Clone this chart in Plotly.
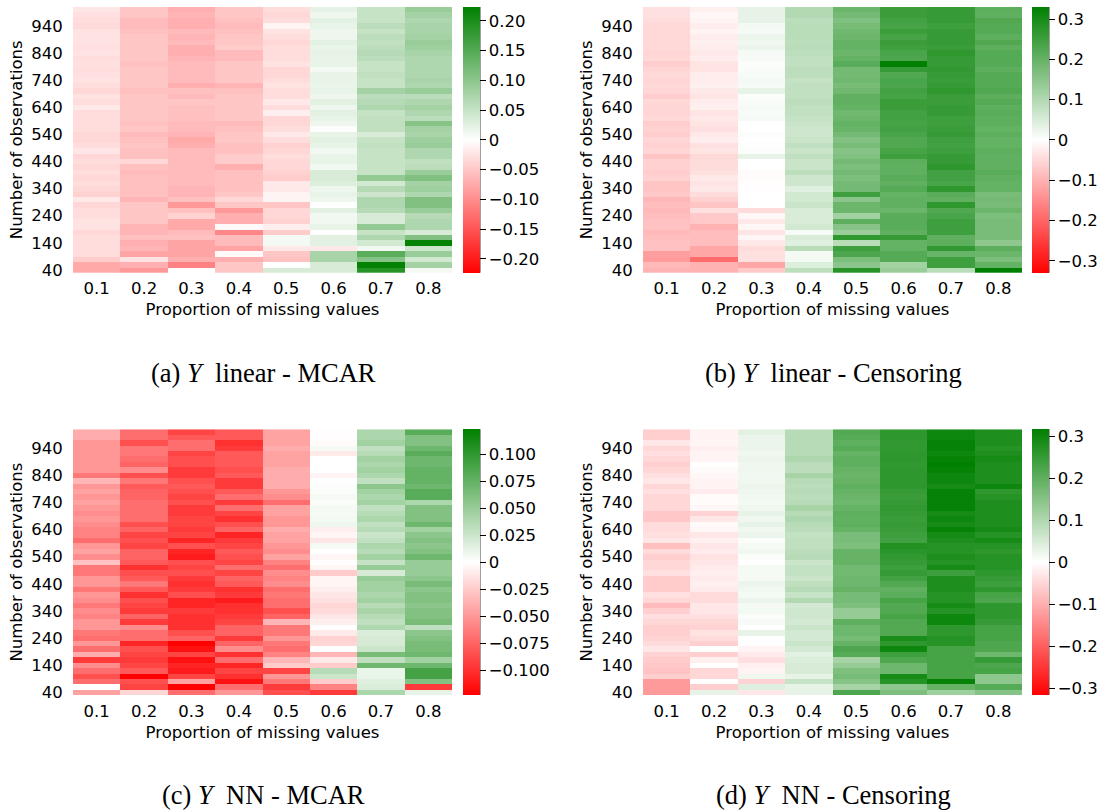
import plotly.graph_objects as go

W, H = 1099, 811
proportions = [0.1, 0.2, 0.3, 0.4, 0.5, 0.6, 0.7, 0.8]
observations = list(range(40, 1001, 20))
y_ticks = list(range(40, 941, 100))

# Columns by proportion of missing values; rows run from 40 to 1000 observations.
panel_a = [
 [-.075,-.075,-.045,-.03,-.03,-.03,-.03,-.035,-.025,-.025,-.03,-.03,-.035,-.02,-.04,-.035,-.03,-.035,-.03,-.035,-.03,-.035,-.022,-.03,-.035,-.035,-.03,-.03,-.03,-.03,-.02,-.03,-.025,-.035,-.03,-.025,-.028,-.03,-.028,-.03,-.025,-.028,-.025,-.025,-.025,-.032,-.03,-.028,-.022],
 [-.09,-.07,-.025,-.08,-.065,-.07,-.055,-.065,-.065,-.05,-.05,-.05,-.05,-.065,-.055,-.055,-.055,-.055,-.06,-.055,-.035,-.055,-.055,-.05,-.055,-.06,-.05,-.055,-.05,-.05,-.05,-.05,-.05,-.055,-.05,-.05,-.05,-.05,-.055,-.05,-.05,-.05,-.05,-.05,-.055,-.06,-.06,-.05,-.05],
 [0,-.11,-.07,-.08,-.08,-.08,-.055,-.06,-.075,-.075,-.04,-.055,-.09,-.055,-.065,-.065,-.06,-.06,-.06,-.06,-.06,-.06,-.06,-.07,-.075,-.065,-.06,-.06,-.055,-.055,-.055,-.05,-.06,-.055,-.07,-.06,-.06,-.06,-.06,-.065,-.07,-.07,-.06,-.065,-.06,-.07,-.07,-.065,-.07],
 [-.05,-.05,-.07,-.005,-.08,-.06,-.06,-.105,-.005,-.07,-.07,-.09,-.05,-.035,-.05,-.055,-.055,-.055,-.055,-.07,-.045,-.045,-.055,-.055,-.05,-.05,-.055,-.06,-.05,-.05,-.05,-.05,-.05,-.055,-.065,-.05,-.05,-.05,-.05,-.06,-.06,-.045,-.05,-.05,-.055,-.06,-.055,-.05,-.05],
 [.035,0,-.055,-.05,-.02,.01,.01,-.045,-.015,-.04,-.035,-.035,-.05,-.01,-.01,-.02,-.02,-.045,-.04,-.035,-.035,-.03,-.035,-.04,-.03,-.02,-.03,-.035,-.035,-.015,-.03,-.02,-.03,-.03,-.025,-.03,-.035,-.035,-.025,-.03,-.03,-.03,-.035,-.03,-.025,-.01,-.03,-.035,-.03],
 [.035,.035,.075,.075,-.02,.025,.025,.002,.02,.012,.012,.025,0,.015,.02,.015,.03,.035,.035,.012,.02,.02,.012,.02,.025,.02,.003,.015,.02,.025,.015,.025,.015,.02,.018,.02,.02,.01,.02,.02,.022,.018,.025,.015,.015,.02,.025,.015,.022],
 [.19,.22,.105,.145,.012,.04,.07,.05,.095,.035,.035,.065,.07,.07,.045,.065,.04,.095,.05,.05,.05,.05,.05,.055,.05,.035,.055,.055,.055,.05,.07,.065,.06,.08,.05,.05,.055,.05,.05,.06,.065,.06,.055,.06,.05,.06,.05,.05,.05],
 [.01,.08,.04,.09,.045,.22,.11,.035,.07,.07,.065,.09,.11,.11,.07,.085,.08,.11,.09,.06,.055,.07,.07,.09,.085,.075,.08,.105,.06,.07,.08,.07,.06,.09,.07,.075,.07,.07,.07,.07,.075,.085,.09,.08,.075,.075,.07,.08,.09],
]
panel_b = [
 [-.1,-.09,-.13,-.125,-.08,-.08,-.085,-.09,-.08,-.08,-.085,-.09,-.085,-.095,-.07,-.075,-.075,-.06,-.065,-.06,-.06,-.075,-.055,-.06,-.055,-.065,-.06,-.065,-.05,-.055,-.055,-.05,-.065,-.055,-.05,-.055,-.05,-.055,-.065,-.05,-.055,-.05,-.05,-.05,-.05,-.05,-.045,-.04,-.04],
 [-.1,-.1,-.19,-.115,-.115,-.085,-.085,-.085,-.1,-.07,-.07,-.04,-.075,-.06,-.045,-.03,-.035,-.03,-.04,-.045,-.045,-.05,-.035,-.04,-.025,-.03,-.04,-.035,-.03,-.035,-.02,-.025,-.035,-.03,-.02,-.025,-.025,-.035,-.035,-.025,-.03,-.025,-.02,-.025,-.015,-.025,-.015,-.01,-.02],
 [-.07,-.115,-.04,-.04,-.045,-.03,-.01,-.035,-.012,-.03,-.01,-.045,0,0,0,-.003,-.002,-.005,-.005,0,0,.03,.005,.004,.003,.005,0,0,.012,.01,.012,.008,.006,.03,.012,.015,.01,.008,.006,.01,.012,.025,.02,.025,.012,.015,.03,.03,.03],
 [.085,.045,.015,.012,.09,.04,.05,.01,.06,.05,.05,.05,.07,.06,.06,.04,.065,.065,.085,.07,.07,.08,.07,.08,.07,.065,.065,.07,.075,.08,.08,.085,.08,.08,.08,.075,.085,.085,.08,.08,.085,.09,.085,.09,.09,.09,.085,.1,.1],
 [.28,.15,.17,.23,.25,.09,.27,.13,.155,.21,.12,.19,.19,.15,.25,.18,.18,.17,.18,.17,.18,.165,.155,.175,.16,.18,.195,.2,.19,.185,.2,.205,.205,.185,.175,.185,.18,.18,.215,.2,.19,.2,.2,.19,.185,.175,.165,.18,.19],
 [.13,.12,.22,.22,.2,.2,.26,.205,.215,.215,.215,.19,.205,.205,.2,.22,.205,.215,.205,.205,.21,.25,.24,.225,.225,.235,.245,.24,.245,.245,.255,.255,.24,.245,.23,.235,.225,.26,.33,.23,.235,.25,.255,.24,.255,.24,.245,.255,.255],
 [.09,.25,.25,.195,.265,.21,.205,.25,.25,.25,.235,.225,.27,.205,.215,.27,.235,.245,.245,.27,.26,.26,.25,.245,.25,.26,.255,.25,.25,.26,.26,.255,.255,.27,.26,.255,.26,.265,.26,.26,.27,.255,.26,.26,.26,.25,.26,.26,.26],
 [.33,.2,.17,.19,.21,.145,.175,.175,.175,.175,.17,.19,.175,.18,.175,.2,.2,.205,.215,.205,.205,.205,.21,.2,.2,.21,.2,.21,.21,.215,.21,.22,.21,.225,.22,.22,.22,.21,.22,.22,.22,.21,.225,.21,.22,.22,.225,.205,.21],
]
panel_c = [
 [-.045,0,-.07,-.085,-.07,-.055,-.095,-.04,-.07,-.05,-.07,-.065,-.05,-.05,-.06,-.055,-.065,-.055,-.05,-.065,-.05,-.05,-.065,-.065,-.03,-.055,-.045,-.05,-.07,-.06,-.06,-.055,-.05,-.055,-.05,-.045,-.05,-.045,-.05,-.035,-.065,-.05,-.05,-.05,-.05,-.05,-.05,-.04,-.04],
 [-.02,-.09,-.085,-.123,-.08,-.09,-.095,-.09,-.085,-.105,-.07,-.07,-.055,-.095,-.075,-.095,-.09,-.085,-.1,-.08,-.065,-.08,-.085,-.1,-.08,-.075,-.075,-.09,-.085,-.09,-.075,-.085,-.07,-.07,-.07,-.07,-.075,-.075,-.08,-.065,-.085,-.055,-.075,-.07,-.065,-.065,-.085,-.07,-.07],
 [-.07,-.123,-.045,-.09,-.11,-.105,-.115,-.09,-.115,-.123,-.075,-.085,-.1,-.1,-.1,-.095,-.105,-.105,-.085,-.095,-.1,-.095,-.085,-.09,-.085,-.11,-.105,-.085,-.105,-.09,-.095,-.09,-.09,-.095,-.095,-.085,-.09,-.085,-.08,-.085,-.095,-.095,-.085,-.085,-.09,-.07,-.07,-.08,-.09],
 [-.05,-.07,-.115,-.1,-.09,-.105,-.07,-.1,-.055,-.075,-.095,-.075,-.075,-.09,-.095,-.1,-.1,-.11,-.095,-.1,-.08,-.075,-.09,-.07,-.09,-.085,-.08,-.09,-.095,-.105,-.075,-.085,-.1,-.09,-.07,-.095,-.07,-.08,-.095,-.095,-.08,-.085,-.08,-.08,-.08,-.095,-.1,-.08,-.08],
 [-.085,-.095,-.065,-.05,-.09,-.025,-.035,-.06,-.07,-.065,-.05,-.065,-.065,-.035,-.075,-.085,-.07,-.07,-.065,-.07,-.055,-.06,-.055,-.07,-.06,-.045,-.055,-.05,-.045,-.045,-.04,-.05,-.05,-.045,-.045,-.07,-.055,-.05,-.04,-.04,-.04,-.04,-.045,-.045,-.045,-.04,-.045,-.045,-.045],
 [-.095,-.06,-.025,.025,.035,-.025,-.01,-.035,.001,-.02,-.022,-.01,.001,-.008,-.012,-.018,-.02,-.015,-.012,-.008,-.005,-.005,-.025,-.005,-.001,-.005,0,.005,-.012,-.005,-.008,.008,.006,.005,.005,.003,.005,.002,.002,.001,-.006,0,0,0,-.01,.005,-.002,-.001,-.001],
 [.04,.018,.015,.01,.01,.07,.03,.065,.025,.02,.02,.018,.038,.03,.035,.042,.035,.045,.04,.045,.045,.05,.02,.05,.028,.045,.035,.04,.03,.025,.035,.03,.04,.035,.03,.045,.04,.045,.055,.03,.04,.045,.04,.045,.035,.03,.045,.04,.04],
 [.012,-.095,.06,.09,.09,.07,.045,.07,.065,.065,.06,.055,.03,.065,.06,.06,.055,.06,.06,.055,.065,.055,.05,.05,.05,.07,.06,.055,.06,.055,.045,.07,.06,.06,.06,.04,.08,.08,.07,.075,.075,.075,.07,.07,.08,.07,.06,.06,.08],
]
panel_d = [
 [-.125,-.125,-.125,-.06,-.075,-.07,-.065,-.055,-.03,-.045,-.055,-.06,-.06,-.05,-.04,-.06,-.085,-.05,-.04,-.065,-.065,-.065,-.04,-.05,-.05,-.06,-.045,-.08,-.03,-.04,-.045,-.045,-.07,-.07,-.05,-.05,-.05,-.04,-.05,-.03,-.04,-.05,-.06,-.05,-.04,-.05,-.03,-.06,-.06],
 [.03,-.06,0,-.05,-.05,0,-.02,-.06,0,-.06,-.045,-.035,-.055,-.05,-.04,-.03,-.03,-.045,-.045,-.025,-.02,-.025,-.02,-.025,-.03,-.035,-.025,-.03,-.02,-.03,-.01,-.008,-.03,-.055,-.01,-.005,-.005,-.025,-.015,-.015,-.01,-.006,0,-.015,-.015,-.02,-.012,-.015,-.015],
 [-.03,.04,-.055,.02,-.015,-.02,-.04,-.025,-.015,.003,.001,.03,0,.01,.006,.015,.012,.025,.015,.018,.025,.012,.012,.012,0,.005,.02,.012,.005,.025,.02,.03,.02,.03,.02,.015,.018,.02,.025,.02,.018,.02,.02,.025,.02,.025,.025,.025,.035],
 [.03,.03,.07,.03,.05,.05,.045,.035,.055,.065,.055,.055,.065,.055,.06,.06,.055,.095,.07,.09,.08,.065,.075,.075,.065,.09,.085,.08,.08,.075,.085,.09,.1,.09,.11,.09,.085,.09,.085,.09,.11,.085,.085,.1,.09,.09,.09,.09,.09],
 [.22,.11,.15,.17,.16,.13,.11,.21,.22,.19,.17,.18,.18,.2,.13,.13,.16,.17,.17,.19,.18,.18,.175,.175,.19,.19,.19,.16,.165,.165,.19,.2,.195,.2,.19,.18,.185,.19,.2,.19,.185,.19,.2,.2,.19,.21,.2,.21,.215],
 [.16,.14,.27,.29,.18,.18,.22,.24,.3,.26,.285,.215,.215,.215,.23,.215,.215,.23,.205,.195,.215,.235,.25,.24,.25,.255,.265,.275,.235,.24,.245,.25,.245,.25,.255,.25,.245,.25,.26,.26,.26,.26,.255,.26,.26,.255,.255,.26,.26],
 [.12,.19,.31,.23,.23,.23,.23,.23,.23,.27,.27,.26,.26,.3,.3,.27,.29,.27,.27,.28,.28,.28,.24,.29,.27,.28,.27,.27,.28,.29,.31,.29,.3,.29,.31,.31,.31,.31,.29,.3,.3,.31,.317,.31,.3,.31,.31,.3,.3],
 [.15,.21,.14,.14,.23,.22,.25,.18,.22,.22,.23,.23,.23,.25,.26,.26,.26,.22,.23,.26,.24,.25,.26,.27,.27,.27,.26,.27,.29,.27,.29,.28,.28,.28,.28,.28,.27,.26,.3,.28,.28,.28,.28,.29,.28,.27,.28,.28,.28],
]

limits = [0.2235, 0.33, 0.123, 0.317]
cbar_ticks = [
    [-0.2, -0.15, -0.1, -0.05, 0, 0.05, 0.1, 0.15, 0.2],
    [-0.3, -0.2, -0.1, 0, 0.1, 0.2, 0.3],
    [-0.1, -0.075, -0.05, -0.025, 0, 0.025, 0.05, 0.075, 0.1],
    [-0.3, -0.2, -0.1, 0, 0.1, 0.2, 0.3],
]
cbar_labels = [
    ["\u22120.20", "\u22120.15", "\u22120.10", "\u22120.05", "0", "0.05", "0.10", "0.15", "0.20"],
    ["\u22120.3", "\u22120.2", "\u22120.1", "0", "0.1", "0.2", "0.3"],
    ["\u22120.100", "\u22120.075", "\u22120.050", "\u22120.025", "0", "0.025", "0.050", "0.075", "0.100"],
    ["\u22120.3", "\u22120.2", "\u22120.1", "0", "0.1", "0.2", "0.3"],
]
captions = ["(a) <i>Y</i>  linear - MCAR", "(b) <i>Y</i>  linear - Censoring",
            "(c) <i>Y</i>  NN - MCAR", "(d) <i>Y</i>  NN - Censoring"]
panels = [panel_a, panel_b, panel_c, panel_d]

# Pixel layout of each panel: heatmap left/right/top/bottom, colourbar left, caption centre.
boxes = [
    (73, 452, 7, 275, 463, 263, 376.5),
    (643, 1022, 7, 275, 1032, 833, 376.5),
    (73, 452, 433, 701, 463, 263, 802),
    (643, 1022, 433, 701, 1032, 833, 802),
]
scale = [[0, "#ff0000"], [0.5, "#ffffff"], [1, "#008000"]]
font_sans = "DejaVu Sans"
FS = 16.5

fig = go.Figure()
annotations = []
shapes = []
for i, (panel, box) in enumerate(zip(panels, boxes)):
    l, r, t, b, cb, cx, cy = box
    suffix = "" if i == 0 else str(i + 1)
    rows = [list(row) for row in zip(*panel)]
    assert all(len(c) == 49 for c in panel)
    fig.add_trace(go.Heatmap(
        z=rows, x=proportions, y=observations, zmin=-limits[i], zmax=limits[i],
        colorscale=scale, xaxis="x" + suffix, yaxis="y" + suffix,
        colorbar=dict(
            x=cb / W, xanchor="left", xpad=0, y=1 - t / H, yanchor="top", ypad=0,
            len=(b - t) / H, lenmode="fraction", thickness=17, thicknessmode="pixels",
            tickmode="array", tickvals=cbar_ticks[i], ticktext=cbar_labels[i],
            ticks="outside", ticklen=6, tickwidth=1.2, tickcolor="#000000",
            tickfont=dict(family=font_sans, size=FS, color="#000000"),
            outlinewidth=0,
        ),
    ))
    fig.update_layout({
        "xaxis" + suffix: dict(
            domain=[l / W, r / W], anchor="y" + suffix, range=[0.05, 0.85],
            tickmode="array", tickvals=proportions, ticktext=[f"{p:.1f}" for p in proportions],
            ticks="outside", ticklen=1, tickcolor="rgba(0,0,0,0)", showgrid=False, zeroline=False,
            tickfont=dict(family=font_sans, size=FS, color="#000000"),
            title=dict(text="Proportion of missing values", standoff=6,
                       font=dict(family=font_sans, size=FS, color="#000000")),
        ),
        "yaxis" + suffix: dict(
            domain=[1 - b / H, 1 - t / H], anchor="x" + suffix, range=[30, 1010],
            tickmode="array", tickvals=y_ticks, ticktext=[str(v) for v in y_ticks],
            ticks="outside", ticklen=6, tickcolor="rgba(0,0,0,0)", showgrid=False, zeroline=False,
            tickfont=dict(family=font_sans, size=FS, color="#000000"),
            title=dict(text="Number of observations", standoff=4,
                       font=dict(family=font_sans, size=FS, color="#000000")),
        ),
    })
    annotations.append(dict(
        x=cx / W, y=1 - cy / H, xref="paper", yref="paper", xanchor="center", yanchor="middle",
        text=captions[i], showarrow=False,
        font=dict(family="Liberation Serif", size=26.5, color="#000000"),
    ))
    shapes.append(dict(
        type="line", xref="paper", yref="paper", layer="above",
        x0=(cb + 17) / W, x1=(cb + 17) / W, y0=1 - t / H, y1=1 - b / H,
        line=dict(color="rgba(0,0,0,0.75)", width=1),
    ))

fig.update_layout(
    width=W, height=H, margin=dict(l=0, r=0, t=0, b=0),
    paper_bgcolor="#ffffff", plot_bgcolor="#ffffff",
    annotations=annotations, shapes=shapes,
)
fig.write_html("out.html", config={"displayModeBar": False},
               post_script="document.body.style.margin='0';")
